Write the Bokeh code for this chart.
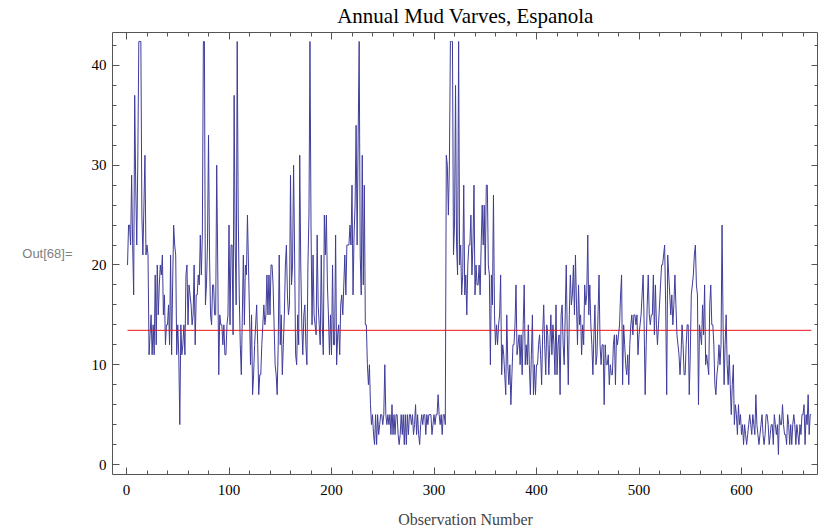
import numpy as np
from bokeh.plotting import figure
from bokeh.models import LinearAxis, SingleIntervalTicker, Range1d, ColumnDataSource
from bokeh.embed import file_html
from bokeh.resources import INLINE

# Varve thickness readings (values above the plot range shown clipped at 42.4)
seg1 = [20, 24, 24, 22, 29, 22, 17, 37, 28, 22,
        30, 42.4, 42.4, 42.4, 25, 21, 26, 31, 21, 22,
        21, 11, 13, 15, 11, 14, 11, 19, 12, 20,
        15, 18, 20, 19, 21, 15, 17, 12, 14, 14,
        16, 12, 21, 11, 18, 24, 22, 21, 11, 14,
        11, 4, 14, 11, 12, 14, 11, 19, 20, 14,
        18, 17, 16, 14, 15, 20, 12, 17, 17, 19,
        18, 23, 19, 23, 42.4, 42.4, 16, 18, 22, 33,
        21, 15, 14, 18, 18, 15, 15, 30, 20, 9,
        15, 14, 14, 12, 14, 11, 11, 14, 15, 24,
        14, 22, 22, 13, 37]
seg2 = [22, 16, 42.4, 25, 17, 12, 9, 15, 21, 14,
        20, 19, 25, 20, 15, 10, 15, 7, 9, 12,
        14, 16, 12, 7, 9, 9, 12, 14, 16, 14,
        15, 19, 15, 19, 15, 20, 20, 18, 14, 10,
        9, 7, 12, 21, 12, 15, 9, 12, 15, 20,
        22, 17, 15, 16, 29, 18, 20, 30, 21, 11,
        10, 15, 12, 31, 20, 14, 11, 15, 16, 12,
        10, 20, 25, 42.4, 24, 14, 21, 15, 14, 13,
        23, 16, 14, 12, 21, 14, 11, 25, 21, 25,
        18, 15, 11, 15, 11, 20, 12, 12, 23, 10,
        13, 14, 11, 16, 17, 15, 18, 21, 17, 22,
        22, 22, 24]
seg3 = [22, 28, 17, 23, 26, 34, 22, 33, 42.4, 21,
        17, 31, 18, 28, 14, 14, 10, 8, 10, 6,
        4, 5, 3, 2, 5, 2, 5, 3, 4, 5,
        5, 4, 5, 10, 5, 4, 5, 4, 5, 3,
        6, 3, 5, 3, 5, 5, 3, 2, 3, 5,
        3, 5, 2, 5, 2, 5, 3, 5, 5, 4,
        5, 3, 4, 6, 3, 5, 3, 2, 4, 5,
        4, 5, 5, 3, 5, 4, 5, 5, 5, 3,
        4, 5, 4, 5, 5, 7, 5, 4, 5, 3,
        5, 5, 4, 31, 30, 25, 30, 42.4, 42.4, 42.4,
        21, 24, 38, 22, 19, 42.4, 20, 22, 17, 19,
        28, 17]
seg4 = [19, 15, 20, 22, 22, 25, 19, 22, 28, 17,
        20, 18, 18, 20, 17, 22, 26, 22, 26, 19,
        28, 28, 20, 19, 10, 19, 16, 27, 15, 12,
        14, 12, 14, 15, 19, 9, 12, 11, 9, 7,
        15, 10, 8, 10, 6, 9, 12, 12, 14, 18,
        11, 12, 13, 10, 13, 9, 14, 18, 10, 12,
        10, 14, 10, 7, 11, 15, 7, 10, 7, 10,
        10, 12, 13, 11, 8, 13, 16, 12, 9, 14,
        13, 9, 12, 15, 11, 14, 12, 9, 16, 9,
        12, 13, 7, 15, 16, 12, 10, 15, 20, 13,
        8, 15, 19, 16, 17, 20, 15, 21, 16, 12,
        18, 14, 15]
seg5 = [11, 14, 12, 18, 16, 17, 23, 15, 18, 14,
        12, 9, 13, 16, 10, 11, 15, 19, 12, 10,
        12, 12, 6, 12, 10, 10, 11, 8, 10, 9,
        9, 12, 13, 8, 13, 12, 13, 14, 17, 19,
        8, 14, 12, 10, 9, 11, 8, 12, 14, 15,
        13, 15, 15, 14, 15, 11, 13, 14, 15, 17,
        19, 14, 7, 12, 16, 19, 15, 14, 15, 15,
        19, 13, 18, 14, 12, 14, 16, 18, 20, 20,
        21, 22, 16, 7, 21, 19, 17, 15, 17, 14,
        16, 19, 16, 13, 12, 11, 9, 11, 14, 12,
        9, 9, 12, 14, 14, 7, 11, 17, 18, 19,
        21, 22]
seg6 = [18, 17, 6, 14, 13, 12, 16, 13, 18, 10,
        11, 10, 9, 16, 18, 14, 14, 12, 8, 7,
        9, 10, 12, 10, 12, 24, 14, 8, 12, 15,
        10, 8, 11, 8, 5, 8, 10, 4, 6, 5,
        3, 6, 4, 5, 3, 4, 2, 4, 3, 2,
        3, 4, 5, 4, 3, 5, 4, 3, 7, 4,
        3, 2, 3, 4, 5, 3, 2, 3, 5, 5,
        4, 2, 3, 4, 4, 2, 5, 4, 3, 4,
        1, 5, 4, 4, 6, 4, 3, 3, 2, 5,
        4, 2, 4, 2, 4, 5, 4, 2, 4, 3,
        2, 4, 3, 5, 5, 6, 2, 5, 4, 7,
        3, 5, 5]
thickness = seg1 + seg2 + seg3 + seg4 + seg5 + seg6
observation = list(range(1, len(thickness) + 1))
mean_level = 13.45

x_ticks_major = 100
y_ticks_major = 10
title_text = "Annual Mud Varves, Espanola"

src = ColumnDataSource(dict(x=observation, y=thickness))

p = figure(frame_width=706, frame_height=442,
           output_backend="svg", toolbar_location=None,
           x_range=Range1d(-13.66, 675.1), y_range=Range1d(-1.0, 43.3),
           min_border_left=112, min_border_right=0, min_border_top=31, min_border_bottom=10)
p.xgrid.visible = False
p.ygrid.visible = False
p.outline_line_color = "#555555"
p.outline_line_width = 1
p.background_fill_color = "white"
p.border_fill_color = "white"

p.line("x", "y", source=src, line_color="#3f3d99", line_width=1)
p.line([observation[0], observation[-1]], [mean_level, mean_level], line_color="#e8141e", line_width=1)

def style(ax, ticker, labels=True):
    ax.ticker = ticker
    ax.axis_line_color = None
    ax.major_tick_in = 7
    ax.major_tick_out = 0
    ax.minor_tick_in = 4
    ax.minor_tick_out = 0
    ax.major_tick_line_color = "#555555"
    ax.minor_tick_line_color = "#555555"
    ax.major_label_text_font = "Liberation Serif"
    if labels:
        ax.major_label_text_font_size = "15px"
        ax.major_label_text_color = "black"
    else:
        ax.major_label_text_font_size = "1px"
        ax.major_label_text_color = None
        ax.major_label_standoff = 0

xt = SingleIntervalTicker(interval=x_ticks_major, num_minor_ticks=5)
yt = SingleIntervalTicker(interval=y_ticks_major, num_minor_ticks=5)
style(p.xaxis[0], xt)
style(p.yaxis[0], yt)
p.xaxis[0].major_label_standoff = 10
p.yaxis[0].major_label_standoff = 6
p.xaxis[0].axis_label = "Observation Number"
p.xaxis[0].axis_label_text_font = "Liberation Serif"
p.xaxis[0].axis_label_text_font_size = "16px"
p.xaxis[0].axis_label_text_font_style = "normal"
p.xaxis[0].axis_label_standoff = 13

p.yaxis[0].axis_label = "Out[68]="
p.yaxis[0].axis_label_orientation = "horizontal"
p.yaxis[0].axis_label_text_font = "Liberation Sans"
p.yaxis[0].axis_label_text_font_size = "13px"
p.yaxis[0].axis_label_text_font_style = "normal"
p.yaxis[0].axis_label_text_color = "#808080"
p.yaxis[0].axis_label_text_baseline = "top"
p.yaxis[0].axis_label_standoff = 16

top = LinearAxis()
style(top, SingleIntervalTicker(interval=x_ticks_major, num_minor_ticks=5), labels=False)
top.axis_label = title_text
top.axis_label_text_font = "Liberation Serif"
top.axis_label_text_font_size = "21px"
top.axis_label_text_font_style = "normal"
top.axis_label_text_color = "black"
top.axis_label_standoff = 5
p.add_layout(top, "above")
right = LinearAxis()
style(right, SingleIntervalTicker(interval=y_ticks_major, num_minor_ticks=5), labels=False)
p.add_layout(right, "right")

open("out.html", "w").write(file_html(p, INLINE))
